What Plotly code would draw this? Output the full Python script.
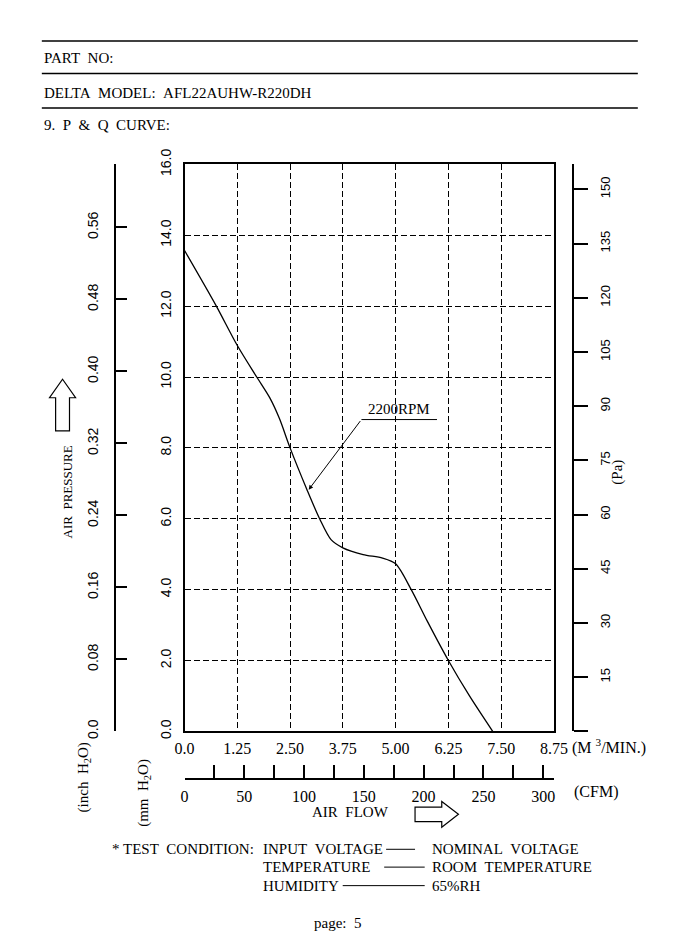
import plotly.graph_objects as go

# ---------------- data ----------------
Q_M3MIN = [0.0, 0.74, 1.25, 1.71, 2.02, 2.25, 2.50, 2.90, 3.20, 3.47, 3.75, 4.23, 4.69, 5.00, 5.37, 5.75, 6.25, 6.75, 7.30]
P_MMH2O = [13.57, 12.03, 10.89, 10.00, 9.41, 8.82, 8.00, 6.82, 6.00, 5.41, 5.18, 4.99, 4.89, 4.73, 4.00, 3.11, 2.00, 1.00, 0.0]
CURVE_NAME = "2200RPM"

X_TICKS_M3 = [0.0, 1.25, 2.50, 3.75, 5.00, 6.25, 7.50, 8.75]
X_LABELS_M3 = ["0.0", "1.25", "2.50", "3.75", "5.00", "6.25", "7.50", "8.75"]
Y_TICKS_MM = [0, 2, 4, 6, 8, 10, 12, 14, 16]
Y_LABELS_MM = ["0.0", "2.0", "4.0", "6.0", "8.0", "10.0", "12.0", "14.0", "16.0"]
INCH_TICKS = [0.0, 0.08, 0.16, 0.24, 0.32, 0.40, 0.48, 0.56]
INCH_LABELS = ["0.0", "0.08", "0.16", "0.24", "0.32", "0.40", "0.48", "0.56"]
PA_TICKS = [15, 30, 45, 60, 75, 90, 105, 120, 135, 150]
PA_LABELS = ["15", "30", "45", "60", "75", "90", "105", "120", "135", "150"]
PA_MINOR_TICKS = [0]
CFM_TICKS = [0, 50, 100, 150, 200, 250, 300]
CFM_LABELS = ["0", "50", "100", "150", "200", "250", "300"]
CFM_MINOR_TICKS = [25, 75, 125, 175, 225, 275]

X_MAX_M3 = 8.75
Y_MAX_MM = 16.0
MM_PER_INCH = 25.4
PA_PER_MM = 9.80665
M3MIN_PER_CFM = 0.0283168

# ---------------- layout helpers ----------------
W, H = 674, 945
def px(x):
    return x / W
def py(y):
    return 1 - y / H

SERIF = "Liberation Serif"
SANS = "Liberation Sans"
NB = "\u00a0"
def sp(t):
    return t.replace(" ", NB + NB)

X_DOM = [px(181), px(564)]
Y_DOM = [py(734), py(152.3)]

fig = go.Figure()
fig.add_trace(go.Scatter(x=Q_M3MIN, y=P_MMH2O, mode="lines", name=CURVE_NAME,
                         line=dict(color="black", width=1.3, shape="spline", smoothing=0.8),
                         xaxis="x", yaxis="y", hoverinfo="skip", showlegend=False))
# empty traces to activate the secondary axes
fig.add_trace(go.Scatter(x=[], y=[], xaxis="x", yaxis="y2", showlegend=False))
fig.add_trace(go.Scatter(x=[], y=[], xaxis="x", yaxis="y3", showlegend=False))
fig.add_trace(go.Scatter(x=[], y=[], xaxis="x2", yaxis="y", showlegend=False))

fig.update_layout(
    width=W, height=H,
    margin=dict(l=0, r=0, t=0, b=0),
    paper_bgcolor="white", plot_bgcolor="white",
    showlegend=False,
    font=dict(family=SERIF, color="black", size=15),
    xaxis=dict(domain=X_DOM, range=[0, X_MAX_M3], tickvals=X_TICKS_M3, ticktext=X_LABELS_M3,
               showgrid=True, gridcolor="black", gridwidth=1, griddash="6px,3px",
               showline=True, mirror=True, linecolor="black", linewidth=2,
               ticks="", zeroline=False, tickfont=dict(family=SERIF, size=16),
               ticklabelstandoff=1, fixedrange=True),
    yaxis=dict(domain=Y_DOM, range=[0, Y_MAX_MM], tickvals=Y_TICKS_MM, ticktext=Y_LABELS_MM,
               showgrid=True, gridcolor="black", gridwidth=1, griddash="6px,3px",
               showline=True, mirror=True, linecolor="black", linewidth=2,
               ticks="", zeroline=False, tickangle=-90, tickfont=dict(family=SANS, size=14),
               ticklabelstandoff=6, fixedrange=True),
    yaxis2=dict(overlaying="y", anchor="free", position=px(109), side="left",
                range=[0, Y_MAX_MM / MM_PER_INCH], tickvals=INCH_TICKS, ticktext=INCH_LABELS,
                showgrid=False, zeroline=False, showline=True, linecolor="black", linewidth=2,
                ticks="inside", ticklen=11, tickwidth=1.5, tickcolor="black",
                tickangle=-90, tickfont=dict(family=SANS, size=14), ticklabelstandoff=11,
                fixedrange=True),
    yaxis3=dict(overlaying="y", anchor="free", position=px(584), side="right",
                range=[0, Y_MAX_MM * PA_PER_MM], tickvals=PA_TICKS, ticktext=PA_LABELS,
                showgrid=False, zeroline=False, showline=True, linecolor="black", linewidth=2,
                ticks="outside", ticklen=14, tickwidth=1.5, tickcolor="black",
                minor=dict(tickvals=PA_MINOR_TICKS, ticks="outside", ticklen=14,
                           tickwidth=1.5, tickcolor="black", showgrid=False),
                tickangle=-90, tickfont=dict(family=SANS, size=13), ticklabelstandoff=6,
                fixedrange=True),
    xaxis2=dict(overlaying="x", anchor="free", position=py(783.3), side="bottom",
                range=[0, X_MAX_M3 / M3MIN_PER_CFM], tickvals=CFM_TICKS, ticktext=CFM_LABELS,
                showgrid=False, zeroline=False, showline=True, linecolor="black", linewidth=2,
                ticks="inside", ticklen=13, tickwidth=1.5, tickcolor="black",
                minor=dict(tickvals=CFM_MINOR_TICKS, ticks="inside", ticklen=13,
                           tickwidth=1.5, tickcolor="black", showgrid=False),
                tickfont=dict(family=SERIF, size=16), ticklabelstandoff=2, fixedrange=True),
)

shapes = []
# header rules
for yy in (25.7, 59, 94.3):
    shapes.append(dict(type="line", xref="paper", yref="paper", x0=px(33), x1=px(651),
                       y0=py(yy), y1=py(yy), line=dict(color="black", width=1.5)))

def path(points):
    return "M " + " L ".join(f"{px(x):.5f},{py(y):.5f}" for x, y in points) + " Z"

# hollow up arrow (pressure)
shapes.append(dict(type="path", xref="paper", yref="paper",
                   path=path([(54.5, 372.7), (68, 391.7), (61.7, 391.7), (61.7, 425.7),
                              (47.3, 425.7), (47.3, 391.7), (41, 391.7)]),
                   line=dict(color="black", width=1.2), fillcolor="white"))
# hollow right arrow (air flow)
shapes.append(dict(type="path", xref="paper", yref="paper",
                   path=path([(420, 811.7), (447.7, 811.7), (447.7, 806), (465, 819),
                              (447.7, 832.3), (447.7, 826.7), (420, 826.7)]),
                   line=dict(color="black", width=1.2), fillcolor="white"))
# underline of the curve label
shapes.append(dict(type="line", xref="x", yref="y", x0=4.19, x1=5.98, y0=8.80, y1=8.80,
                   line=dict(color="black", width=1)))
# test condition leaders
for x0, x1, yy in ((390, 420, 855), (388, 430, 873.3), (345, 430, 892.3)):
    shapes.append(dict(type="line", xref="paper", yref="paper", x0=px(x0), x1=px(x1),
                       y0=py(yy), y1=py(yy), line=dict(color="black", width=1)))
fig.update_layout(shapes=shapes)

ann = []
def text(t, x, y, xanchor="left", size=15, angle=0, family=SERIF):
    ann.append(dict(text=t, x=px(x), y=py(y), xref="paper", yref="paper", showarrow=False,
                    xanchor=xanchor, yanchor="middle", textangle=angle,
                    font=dict(family=family, size=size, color="black")))

text(sp("PART NO:"), 33, 43.5)
text(sp("DELTA MODEL: AFL22AUHW-R220DH"), 33, 78.5)
text(sp("9. P & Q CURVE:"), 33, 112)

text(sp("AIR PRESSURE"), 60, 488, xanchor="center", size=13, angle=-90)
text(sp("(inch H<sub>2</sub>O)"), 77, 781, xanchor="center", size=15, angle=-90)
text(sp("(mm H<sub>2</sub>O)"), 139, 797, xanchor="center", size=15, angle=-90)
text("(Pa)", 630, 468, xanchor="center", size=15, angle=-90)
text("(M" + NB + "<sup>3</sup>/MIN.)", 581, 750, size=16)
text("(CFM)", 583, 796, size=16)
text(sp("AIR FLOW"), 353, 817, xanchor="center", size=15)

text("*", 104, 855)
text(sp("TEST CONDITION:"), 255, 855, xanchor="right")
text(sp("INPUT VOLTAGE"), 260, 855)
text("TEMPERATURE", 260, 873.3)
text("HUMIDITY", 260, 892.3)
text(sp("NOMINAL VOLTAGE"), 435, 855)
text(sp("ROOM TEMPERATURE"), 435, 873.3)
text("65%RH", 435, 892.3)
text(sp("page: 5"), 340, 931, xanchor="center")

# curve label with leader arrow
ann.append(dict(text=CURVE_NAME, x=5.08, y=8.80, xref="x", yref="y", showarrow=False,
                xanchor="center", yanchor="bottom", yshift=1,
                font=dict(family=SERIF, size=15, color="black")))
ann.append(dict(text="", x=2.94, y=6.82, xref="x", yref="y", ax=4.19, ay=8.80,
                axref="x", ayref="y", showarrow=True, arrowhead=2, arrowsize=0.9,
                arrowwidth=1, arrowcolor="black", standoff=0))
fig.update_layout(annotations=ann)

fig.write_html("out.html")
